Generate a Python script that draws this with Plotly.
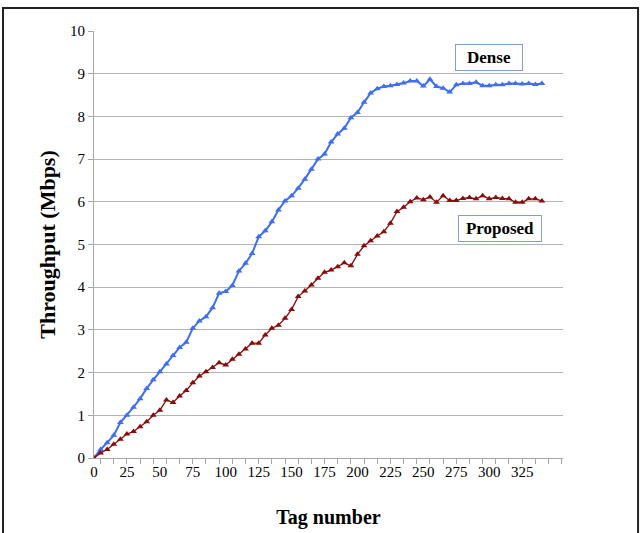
import plotly.graph_objects as go

tag_numbers = list(range(0, 345, 5))

dense = [0, 0.2, 0.36, 0.53, 0.83, 1.0, 1.19, 1.39, 1.63, 1.83, 2.02, 2.2, 2.4, 2.59, 2.71,
         3.04, 3.21, 3.31, 3.52, 3.86, 3.9, 4.04, 4.38, 4.56, 4.79, 5.18, 5.32, 5.53, 5.81,
         6.02, 6.14, 6.32, 6.53, 6.76, 7.0, 7.12, 7.4, 7.59, 7.72, 7.97, 8.09, 8.33, 8.55,
         8.65, 8.7, 8.72, 8.75, 8.78, 8.83, 8.83, 8.71, 8.87, 8.7, 8.66, 8.57, 8.74, 8.77,
         8.77, 8.8, 8.72, 8.72, 8.74, 8.74, 8.77, 8.77, 8.76, 8.77, 8.75, 8.77]

proposed = [0, 0.12, 0.2, 0.32, 0.44, 0.56, 0.62, 0.73, 0.85, 1.0, 1.12, 1.36, 1.3, 1.45,
            1.58, 1.76, 1.92, 2.02, 2.12, 2.23, 2.18, 2.31, 2.43, 2.55, 2.69, 2.69, 2.88,
            3.04, 3.11, 3.27, 3.48, 3.78, 3.91, 4.05, 4.21, 4.35, 4.40, 4.48, 4.57, 4.50,
            4.77, 4.97, 5.09, 5.2, 5.3, 5.5, 5.77, 5.87, 6.0, 6.09, 6.05, 6.11, 5.99, 6.14,
            6.03, 6.03, 6.08, 6.1, 6.07, 6.14, 6.07, 6.1, 6.08, 6.07, 5.99, 5.99, 6.07, 6.07,
            6.02]

x_ticks = list(range(0, 350, 25))
y_ticks = list(range(0, 11))

SERIF = "Liberation Serif, Times New Roman, serif"

fig = go.Figure()
fig.add_trace(go.Scatter(
    x=tag_numbers, y=dense, mode="lines+markers", name="Dense",
    line=dict(color="#3d6ef5", width=2),
    marker=dict(symbol="triangle-up", size=6, color="#3d6ef5"),
))
fig.add_trace(go.Scatter(
    x=tag_numbers, y=proposed, mode="lines+markers", name="Proposed",
    line=dict(color="#8b0a0a", width=1.3),
    marker=dict(symbol="triangle-up", size=6, color="#8b0a0a"),
))

fig.update_layout(
    width=642, height=533,
    margin=dict(l=94, r=79, t=31, b=75),
    paper_bgcolor="white", plot_bgcolor="white",
    showlegend=False,
    font=dict(family=SERIF, color="black"),
    xaxis=dict(
        range=[0, 356], tickmode="array", tickvals=x_ticks,
        ticktext=[str(v) for v in x_ticks], automargin=False,
        ticks="", showgrid=False, zeroline=False,
        showline=True, linecolor="#a6a6a6", linewidth=1,
        tickfont=dict(family=SERIF, size=15, color="black"),
        minor=dict(ticks="outside", dtick=10, tick0=5, ticklen=5, tickcolor="#a6a6a6", showgrid=False),
        title=dict(text="<b>Tag number</b>", font=dict(family=SERIF, size=20, color="black"), standoff=30),
    ),
    yaxis=dict(
        range=[0, 10], tickmode="array", tickvals=y_ticks, automargin=False,
        ticks="outside", ticklen=5, tickcolor="#a6a6a6",
        showgrid=True, gridcolor="#b3b3b3", gridwidth=1, zeroline=False,
        showline=True, linecolor="#a6a6a6", linewidth=1,
        tickfont=dict(family=SERIF, size=15, color="black"),
        title=dict(text="<b>Throughput (Mbps)</b>", font=dict(family=SERIF, size=22, color="black"), standoff=8),
    ),
)

fig.add_annotation(
    x=300, y=9.38, xref="x", yref="y", text="<b>Dense</b>", showarrow=False,
    font=dict(family=SERIF, size=17, color="black"),
    bordercolor="#7f9fd4", borderwidth=1, borderpad=3, bgcolor="white", width=60,
)
fig.add_annotation(
    x=308.5, y=5.37, xref="x", yref="y", text="<b>Proposed</b>", showarrow=False,
    font=dict(family=SERIF, size=17, color="black"),
    bordercolor="#7f9fd4", borderwidth=1, borderpad=3, bgcolor="white", width=76,
)

# outer frame
fig.add_shape(type="rect", xref="paper", yref="paper",
              x0=-0.194, x1=1.16, y0=-0.3, y1=1.054,
              line=dict(color="#222222", width=2), layer="below")

fig.write_html("out.html", config={"displayModeBar": False},
               post_script="document.body.style.margin='0';")
